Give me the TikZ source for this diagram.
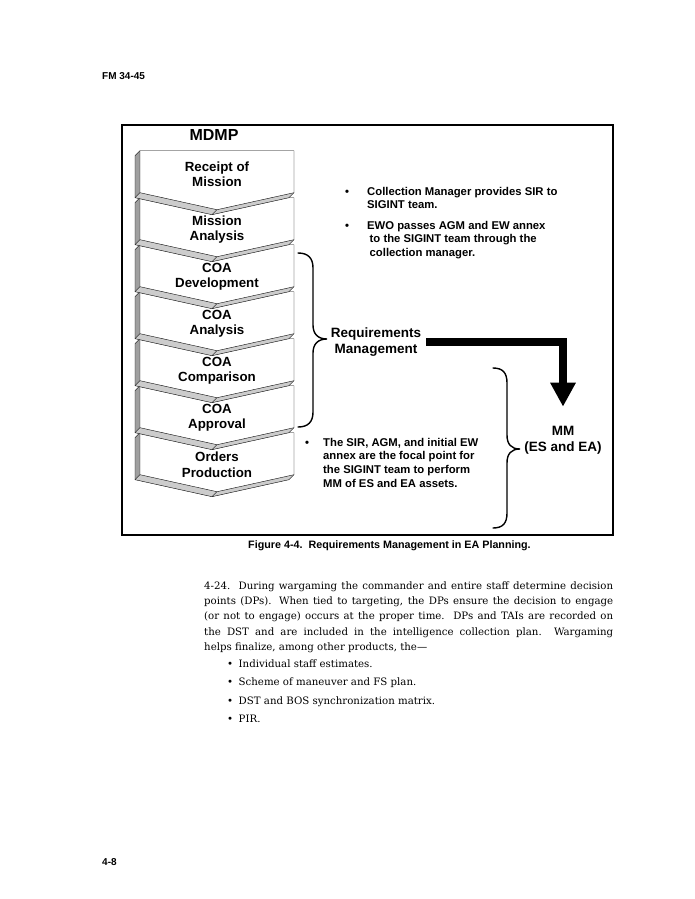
\documentclass[tikz,border=0pt]{standalone}
\usepackage{fontspec}
\setmainfont{DejaVu Serif}
\setsansfont{Liberation Sans}
\usetikzlibrary{calc, positioning, arrows.meta}

\begin{document}
\begin{tikzpicture}
			[x=1pt, y=-1pt,
			stage/.style={text centered, align=center, font=\sffamily\bfseries\fontsize{13.3}{15.5}\selectfont},
			bigtext/.style={align=center, font=\sffamily\bfseries\fontsize{13.5}{16.5}\selectfont},
			note/.style={align=left, anchor=north west, inner sep=0pt, font=\sffamily\bfseries\fontsize{11.3}{13.6}\selectfont},
			body/.style={anchor=north west, inner sep=0pt, font=\fontsize{10.2}{15.2}\selectfont},
			curly/.style={line width=1.4pt, line cap=round},
			bigarrow/.style={line width=7.5pt, -{Triangle[length=24pt,width=24pt]}}]
			\useasboundingbox (0,0) rectangle (695,899);

			% page head and foot %
			\node[anchor=west, inner sep=0pt, font=\sffamily\bfseries\fontsize{10}{12}\selectfont] (head) at (102,76) {FM 34-45};
			\node[anchor=west, inner sep=0pt, font=\sffamily\bfseries\fontsize{10}{12}\selectfont] (foot) at (102,862) {4-8};

			% frame %
			\draw[line width=2.2pt] (122,125) rectangle (613,535);
			\node[font=\sffamily\bfseries\fontsize{16}{18}\selectfont] (mdmp) at (214,135) {MDMP};

			% chevrons, lowest first %
			\foreach \i in {7,6,...,1}
			{
				\pgfmathsetmacro\t{150.7+(\i-1)*47}
				\fill[gray!75] (140,\t) -- (135,\t+5) -- (135,\t+47) -- (140,\t+42) -- cycle;
				\fill[gray!40] (140,\t+42) -- (135,\t+47) -- (212,\t+64) -- (289,\t+47) -- (294,\t+42) -- (217,\t+59) -- cycle;
				\draw[thin] (140,\t) -- (135,\t+5) -- (135,\t+47) -- (212,\t+64) -- (289,\t+47) -- (294,\t+42);
				\draw[thin] (140,\t+42) -- (135,\t+47) (217,\t+59) -- (212,\t+64);
				\draw[thin, fill=white] (140,\t) -- (294,\t) -- (294,\t+42) -- (217,\t+59) -- (140,\t+42) -- cycle;
			}
			% stage names %
			\foreach \i/\txt in {1/{Receipt of\\Mission}, 2/{Mission\\Analysis}, 3/{COA\\Development}, 4/{COA\\Analysis}, 5/{COA\\Comparison}, 6/{COA\\Approval}, 7/{Orders\\Production}}
			{
				\pgfmathsetmacro\t{150.7+(\i-1)*47}
				\pgfmathsetmacro\off{\i==1 ? 23.5 : 32}
				\node[stage] (s\i) at (217,\t+\off) {\txt};
			}

			% braces %
			\draw[curly] (298,253) .. controls (308,253) and (313,258) .. (313,268) -- (313,325)
				.. controls (313,334) and (318,339) .. (327,339) .. controls (318,339) and (313,344) .. (313,353)
				-- (313,412) .. controls (313,422) and (308,427) .. (298,427);
			\draw[curly] (493,368) .. controls (503,368) and (507,373) .. (507,383) -- (507,435)
				.. controls (507,444) and (511,449) .. (520,449) .. controls (511,449) and (507,454) .. (507,463)
				-- (507,513) .. controls (507,523) and (503,528) .. (493,528);

			% labels and notes %
			\node[bigtext, inner sep=5pt] (reqmgmt) at (376,342) {Requirements\\Management};
			\node[bigtext] (mm) at (563,440.5) {MM\\(ES and EA)};
			\node[note] (sir) at (345,187) {\makebox[22pt][l]{•}Collection Manager provides SIR to\\\hspace*{22pt}SIGINT team.};
			\node[note] (ewo) at (345,221) {\makebox[22pt][l]{•}EWO passes AGM and EW annex\\\hspace*{24.5pt}to the SIGINT team through the\\\hspace*{24.5pt}collection manager.};
			\node[note] (focal) at (305,438) {\makebox[18pt][l]{•}The SIR, AGM, and initial EW\\\hspace*{18pt}annex are the focal point for\\\hspace*{18pt}the SIGINT team to perform\\\hspace*{18pt}MM of ES and EA assets.};

			% edges %
			\draw[bigarrow, shorten >=16pt] (reqmgmt.east) -| (mm.north);

			% caption and text %
			\node[anchor=west, inner sep=0pt, font=\sffamily\bfseries\fontsize{10.75}{13}\selectfont] (caption) at (248,546) {Figure 4-4.\ \ Requirements Management in EA Planning.};
			\node[body, text width=409pt, align=justify] (para) at (204,581.5) {\noindent 4-24.\ \ During wargaming the commander and entire staff determine decision\linebreak points (DPs). When tied to targeting, the DPs ensure the decision to engage\linebreak (or not to engage) occurs at the proper time.\ \ DPs and TAIs are recorded on\linebreak the DST and are included in the intelligence collection plan.\ \ Wargaming\linebreak helps finalize, among other products, the—};
			\node[body, align=left] (items) at (227,659.5) {•\hspace{5.5pt}Individual staff estimates.\\[3.2pt]•\hspace{5.5pt}Scheme of maneuver and FS plan.\\[3.2pt]•\hspace{5.5pt}DST and BOS synchronization matrix.\\[3.2pt]•\hspace{5.5pt}PIR.};
			\end{tikzpicture}
\end{document}
